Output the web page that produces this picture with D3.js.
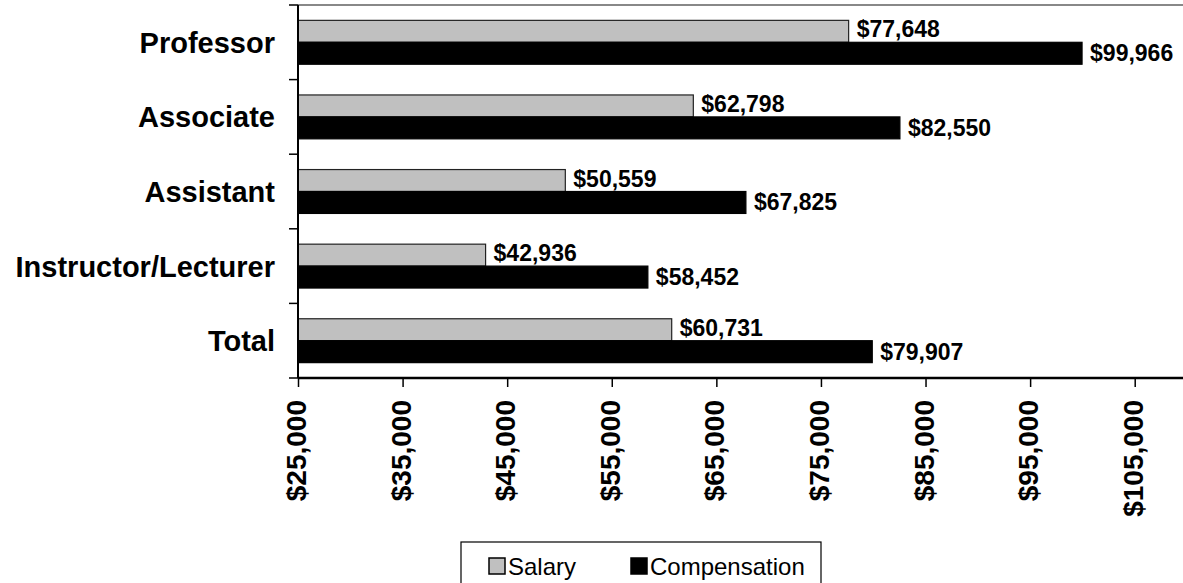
<!DOCTYPE html>
<html>
<head>
<meta charset="utf-8">
<script src="https://cdn.jsdelivr.net/npm/d3@7"></script>
<style>
  body { margin: 0; background: #fff; }
  svg { display: block; font-family: Arial, "Liberation Sans", sans-serif; }
</style>
</head>
<body>
<div class="grafico"></div>
<script>
// datos
const categorias = ["Professor", "Associate", "Assistant", "Instructor/Lecturer", "Total"];
const salario = [77648, 62798, 50559, 42936, 60731];
const compensacion = [99966, 82550, 67825, 58452, 79907];
const ticksX = [25000, 35000, 45000, 55000, 65000, 75000, 85000, 95000, 105000];
const series = ["Salary", "Compensation"];

var width = 1183, height = 583;
var plot = { left: 298, top: 5, right: 1187, bottom: 378 };

var svg = d3.select(".grafico")
  .append("svg")
  .attr("width", width)
  .attr("height", height);

// escalas
var x = d3.scaleLinear().domain([25000, 110000]).range([plot.left, plot.right]);
var y = d3.scaleBand().domain(categorias).range([plot.top, plot.bottom]);
var ySub = d3.scaleBand().domain(series).range([0, y.bandwidth()]).paddingOuter(0.7).paddingInner(0);
var colores = { Salary: "#c0c0c0", Compensation: "#000000" };
var fmt = v => "$" + d3.format(",")(v);

// linea superior del area
svg.append("line")
  .attr("x1", plot.left).attr("x2", width)
  .attr("y1", plot.top).attr("y2", plot.top)
  .attr("stroke", "#888").attr("stroke-width", 2);

// barras
var filas = categorias.map((c, i) => ({ cat: c, Salary: salario[i], Compensation: compensacion[i] }));
var grupos = svg.selectAll(".fila")
  .data(filas)
  .enter()
  .append("g")
  .attr("transform", d => "translate(0," + y(d.cat) + ")");

grupos.selectAll("rect")
  .data(d => series.map(s => ({ s: s, v: d[s] })))
  .enter()
  .append("rect")
  .attr("x", x(25000))
  .attr("y", d => ySub(d.s))
  .attr("width", d => x(d.v) - x(25000))
  .attr("height", ySub.bandwidth())
  .attr("fill", d => colores[d.s])
  .attr("stroke", d => d.s === "Salary" ? "#222" : "#000")
  .attr("stroke-width", 1.2);

grupos.selectAll("text.valor")
  .data(d => series.map(s => ({ s: s, v: d[s] })))
  .enter()
  .append("text")
  .attr("class", "valor")
  .attr("x", d => x(d.v) + 8)
  .attr("y", d => ySub(d.s) + ySub.bandwidth() / 2 + (d.s === "Salary" ? 6 : 8))
  .attr("font-size", 23)
  .attr("font-weight", "bold")
  .text(d => fmt(d.v));

// eje y
var ejeY = svg.append("g");
ejeY.append("line")
  .attr("x1", plot.left).attr("x2", plot.left)
  .attr("y1", plot.top).attr("y2", plot.bottom)
  .attr("stroke", "#000").attr("stroke-width", 2);
var bordesY = categorias.map(c => y(c)).concat([plot.bottom]);
ejeY.selectAll("line.tick")
  .data(bordesY)
  .enter()
  .append("line")
  .attr("class", "tick")
  .attr("x1", plot.left - 9).attr("x2", plot.left)
  .attr("y1", d => d).attr("y2", d => d)
  .attr("stroke", "#000").attr("stroke-width", 1.5);
ejeY.selectAll("text")
  .data(categorias)
  .enter()
  .append("text")
  .attr("x", 275)
  .attr("y", d => y(d) + y.bandwidth() / 2 + 10.5)
  .attr("text-anchor", "end")
  .attr("font-size", 29)
  .attr("font-weight", "bold")
  .text(d => d);

// eje x
var ejeX = svg.append("g")
  .attr("transform", "translate(0," + plot.bottom + ")")
  .call(d3.axisBottom(x).tickValues(ticksX).tickSize(9).tickSizeOuter(0).tickFormat(fmt));
ejeX.attr("font-family", null);
ejeX.select(".domain").attr("stroke", "#000").attr("stroke-width", 2.5)
  .attr("d", "M" + plot.left + ",0H" + width);
ejeX.selectAll(".tick line").attr("stroke", "#000").attr("stroke-width", 1.5);
ejeX.selectAll(".tick text")
  .attr("font-size", 28)
  .attr("font-weight", "bold")
  .attr("fill", "#000")
  .attr("text-anchor", "end")
  .attr("transform", "translate(7.5,22) rotate(-90)")
  .attr("x", 0).attr("y", 0).attr("dy", 0);

// leyenda
var ley = svg.append("g");
ley.append("rect")
  .attr("x", 461).attr("y", 542)
  .attr("width", 360).attr("height", 60)
  .attr("fill", "#fff").attr("stroke", "#000").attr("stroke-width", 1.2);
var posLey = [{ s: "Salary", x: 489 }, { s: "Compensation", x: 631 }];
ley.selectAll("rect.sw")
  .data(posLey)
  .enter()
  .append("rect")
  .attr("class", "sw")
  .attr("x", d => d.x).attr("y", 558)
  .attr("width", 16).attr("height", 16)
  .attr("fill", d => colores[d.s])
  .attr("stroke", "#000").attr("stroke-width", 1.5);
ley.selectAll("text")
  .data(posLey)
  .enter()
  .append("text")
  .attr("x", d => d.x + 19)
  .attr("y", 575)
  .attr("font-size", 24)
  .text(d => d.s);
</script>
</body>
</html>
